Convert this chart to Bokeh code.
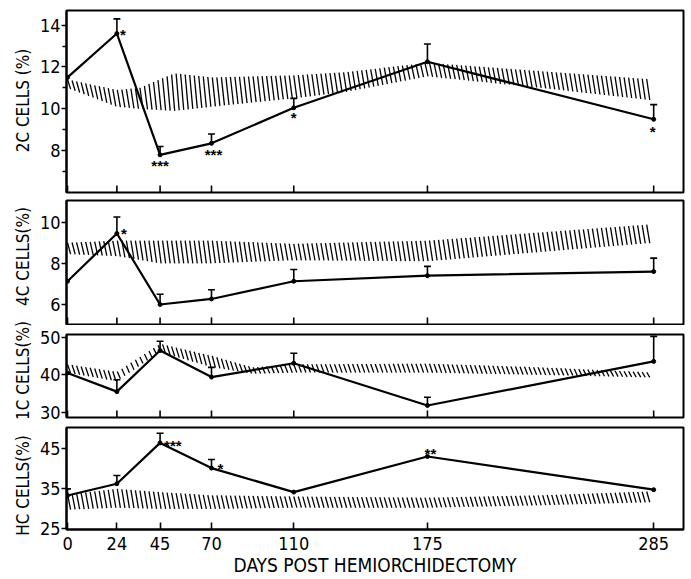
import numpy as np
from bokeh.plotting import figure
from bokeh.layouts import column, row
from bokeh.models import FixedTicker, Range1d, Whisker, TeeHead, ColumnDataSource
from bokeh.core.properties import value
from bokeh.embed import file_html
from bokeh.resources import INLINE

FONT = "DejaVu Sans Condensed, Liberation Sans Narrow, DejaVu Sans, sans-serif"

# ---------------- data ----------------
days = [0, 24, 45, 70, 110, 175, 285]

# 2C cells (%)
c2_mean = [11.5, 13.6, 7.8, 8.35, 10.05, 12.25, 9.5]
c2_err_top = [None, 14.3, 8.2, 8.8, 10.5, 13.1, 10.2]
c2_stars = ["", "*", "***", "***", "*", "", "*"]
c2_band_days = [0, 24, 35, 52, 70, 110, 135, 175, 230, 285]
c2_band_hi = [11.4, 10.9, 11.0, 11.7, 11.5, 11.6, 11.75, 12.2, 11.8, 11.4]
c2_band_lo = [11.0, 10.1, 10.0, 9.9, 10.1, 10.5, 10.8, 11.55, 11.0, 10.4]

# 4C cells (%)
c4_mean = [7.13, 9.45, 6.0, 6.27, 7.13, 7.4, 7.6]
c4_err_top = [None, 10.25, 6.5, 6.72, 7.7, 7.85, 8.25]
c4_stars = ["", "*", "", "", "", "", ""]
c4_band_days = [0, 24, 45, 70, 110, 175, 230, 285]
c4_band_hi = [9.0, 9.1, 9.1, 9.1, 8.95, 9.1, 9.5, 9.9]
c4_band_lo = [8.45, 8.35, 8.0, 8.0, 8.15, 8.1, 8.55, 9.0]

# 1C cells (%)
c1_mean = [40.5, 35.5, 46.5, 39.4, 43.1, 31.8, 43.6]
c1_err_top = [None, 38.7, 49.0, 42.0, 45.8, 34.0, 50.3]
c1_stars = ["", "", "", "", "", "", ""]
c1_band_days = [0, 24, 45, 70, 90, 110, 175, 230, 285]
c1_band_hi = [42.8, 40.8, 48.3, 45.1, 42.0, 42.8, 43.0, 42.0, 40.6]
c1_band_lo = [40.6, 38.3, 46.1, 42.1, 40.3, 40.6, 40.6, 40.0, 39.3]

# HC cells (%)
hc_mean = [33.25, 36.2, 46.4, 40.1, 34.1, 43.0, 34.7]
hc_err_top = [34.9, 38.25, 48.8, 42.25, None, None, None]
hc_stars = ["", "", "***", "*", "", "**", ""]
hc_band_days = [0, 24, 45, 70, 110, 175, 230, 285]
hc_band_hi = [33.5, 34.9, 34.1, 33.3, 33.0, 32.7, 33.3, 34.3]
hc_band_lo = [29.7, 30.2, 29.9, 29.9, 30.2, 30.2, 30.8, 31.6]

y_titles = ["2C CELLS (%)", "4C CELLS(%)", "1C CELLS(%)", "HC CELLS(%)"]
x_title = "DAYS POST HEMIORCHIDECTOMY"

# ---------------- layout / style ----------------
LABEL_W = 34
Y_TITLE_X = 22
Y_TITLE_POS = [100, 256, 370, 485]   # vertical pixel centres of the y titles
star_style = {
    "2C": {"dx": [0, 3, 0, 2, 0, 0, -1], "dy": [0, 1, 11, 11, 10, 0, 12],
           "align": ["left", "left", "center", "center", "center", "center", "center"]},
    "4C": {"dx": [0, 4, 0, 0, 0, 0, 0], "dy": [0, 0, 0, 0, 0, 0, 0],
           "align": ["left"] * 7},
    "1C": {"dx": [0] * 7, "dy": [0] * 7, "align": ["left"] * 7},
    "HC": {"dx": [0, 0, 4, 6, 0, 3, 0], "dy": [0, 0, 3, 0, 0, -3, 0],
           "align": ["left", "left", "left", "left", "left", "center", "left"]},
}


def hatch(p, bd, bhi, blo, step=2.2, slant=1.5):
    xs = np.arange(bd[0], bd[-1] - slant + 1e-9, step)
    p.segment(x0=xs, y0=np.interp(xs, bd, bhi),
              x1=xs + slant, y1=np.interp(xs + slant, bd, blo),
              line_color="black", line_width=1.3)


def make_panel(key, mean, err_top, stars, bd, bhi, blo, yr, yticks, yminor,
               height, btop, bbot, bottom=False):
    p = figure(width=691 - LABEL_W, height=height, x_range=Range1d(-0.5, 299.5),
               y_range=Range1d(*yr), output_backend="svg", toolbar_location=None,
               min_border_left=66 - LABEL_W, min_border_right=8, min_border_top=btop,
               min_border_bottom=bbot)
    p.xgrid.visible = False
    p.ygrid.visible = False
    p.outline_line_color = "black"
    p.outline_line_width = 2
    p.background_fill_color = "white"
    p.border_fill_color = "white"

    hatch(p, bd, bhi, blo)

    ex = [d for d, e in zip(days, err_top) if e is not None]
    elo = [m for m, e in zip(mean, err_top) if e is not None]
    ehi = [e for e in err_top if e is not None]
    if ex:
        src = ColumnDataSource(dict(x=ex, lo=elo, hi=ehi))
        w = Whisker(source=src, base="x", lower="lo", upper="hi",
                    line_color="black", line_width=1.6,
                    upper_head=TeeHead(size=7, line_width=1.6, line_color="black"),
                    lower_head=None)
        p.add_layout(w)

    p.line(days, mean, line_color="black", line_width=2.2)
    p.scatter(days, mean, size=4, color="black")

    st = star_style[key]
    sx, sy, stxt, sdx, sdy, sal = [], [], [], [], [], []
    for i, s in enumerate(stars):
        if s:
            sx.append(days[i]); sy.append(mean[i]); stxt.append(s)
            sdx.append(st["dx"][i]); sdy.append(st["dy"][i]); sal.append(st["align"][i])
    if sx:
        ssrc = ColumnDataSource(dict(x=sx, y=sy, t=stxt, dx=sdx, dy=sdy, al=sal))
        p.text(x="x", y="y", text="t", source=ssrc, x_offset="dx", y_offset="dy",
               text_align="al", text_baseline="middle",
               text_font=value("Liberation Sans"),
               text_font_size="15px", text_font_style="bold", text_color="black")

    xa = p.xaxis[0]
    if bottom:
        xa.ticker = FixedTicker(ticks=days)
        xa.major_tick_in = 7
        xa.major_tick_out = 0
        xa.minor_tick_line_color = None
        xa.axis_line_width = 2
        xa.major_tick_line_width = 1.6
        xa.major_label_text_font = FONT
        xa.major_label_text_font_size = "18px"
        xa.major_label_text_color = "black"
        xa.major_label_standoff = 7
        xa.axis_label = x_title
        xa.axis_label_text_font = FONT
        xa.axis_label_text_font_size = "19px"
        xa.axis_label_text_font_style = "normal"
        xa.axis_label_text_color = "black"
        xa.axis_label_standoff = 1
    else:
        xa.visible = False
        # inward ticks on the lower frame edge, at the sampling days
        p.scatter(x=days, y=[yr[0]] * len(days), marker="dash", angle=np.pi / 2,
                  size=14, line_color="black", line_width=1.6)

    ya = p.yaxis[0]
    ya.ticker = FixedTicker(ticks=yticks, minor_ticks=yminor)
    ya.major_tick_in = 0
    ya.major_tick_out = 5
    ya.minor_tick_in = 0
    ya.minor_tick_out = 4
    ya.axis_line_width = 2
    ya.major_tick_line_width = 1.6
    ya.minor_tick_line_width = 1.4
    ya.major_label_text_font = FONT
    ya.major_label_text_font_size = "18px"
    ya.major_label_text_color = "black"
    ya.major_label_standoff = 1
    return p


p1 = make_panel("2C", c2_mean, c2_err_top, c2_stars,
                c2_band_days, c2_band_hi, c2_band_lo, (6.0, 14.7),
                [8, 10, 12, 14], [7, 9, 11, 13], 196, 10, 4)
p2 = make_panel("4C", c4_mean, c4_err_top, c4_stars,
                c4_band_days, c4_band_hi, c4_band_lo, (5.03, 11.05),
                [6, 8, 10], [], 129, 4, 1)
p3 = make_panel("1C", c1_mean, c1_err_top, c1_stars,
                c1_band_days, c1_band_hi, c1_band_lo, (28.58, 50.8),
                [30, 40, 50], [], 97, 9, 5)
p4 = make_panel("HC", hc_mean, hc_err_top, hc_stars,
                hc_band_days, hc_band_hi, hc_band_lo, (24.75, 50.25),
                [25, 35, 45], [], 157, 5, 50, bottom=True)

# left strip holding the rotated y titles
lab = figure(width=LABEL_W, height=579, x_range=Range1d(0, LABEL_W),
             y_range=Range1d(579, 0), output_backend="svg", toolbar_location=None,
             min_border=0)
lab.axis.visible = False
lab.grid.visible = False
lab.outline_line_color = None
lab.background_fill_color = "white"
lab.border_fill_color = "white"
lab.text(x=[Y_TITLE_X] * 4, y=Y_TITLE_POS, text=y_titles, angle=np.pi / 2,
         text_align="center", text_baseline="middle", text_font=value(FONT),
         text_font_size="17px", text_color="black")

layout = row(lab, column(p1, p2, p3, p4, spacing=0), spacing=0)
open("out.html", "w").write(file_html(layout, INLINE))
